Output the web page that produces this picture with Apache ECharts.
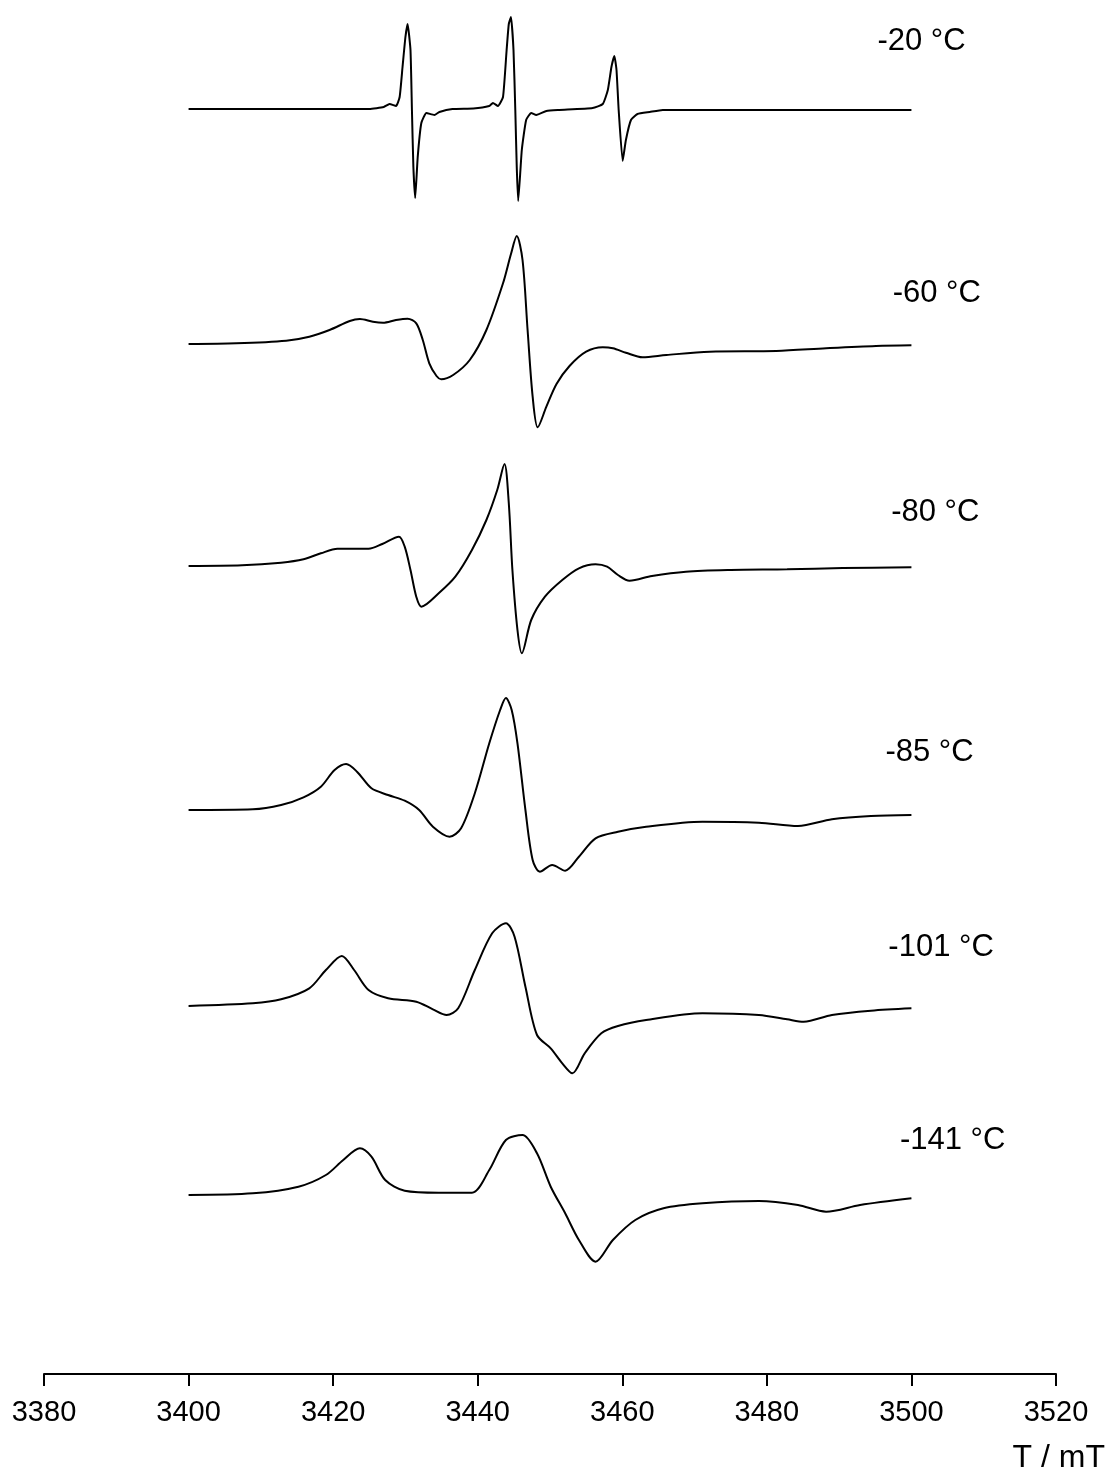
<!DOCTYPE html>
<html>
<head>
<meta charset="utf-8">
<script src="https://cdn.jsdelivr.net/npm/echarts@6/dist/echarts.min.js"></script>
<style>
  html, body { margin: 0; padding: 0; background: #fff; }
  #chart { width: 1110px; height: 1477px; }
</style>
</head>
<body>
<div id="chart"></div>
<script>
// axis ticks (mT)
const xTicks = [3380, 3400, 3420, 3440, 3460, 3480, 3500, 3520]

// temperature labels, top to bottom
const tempLabels = ['-20 °C', '-60 °C', '-80 °C', '-85 °C', '-101 °C', '-141 °C']
// vertical stacking offset of each spectrum (baseline height, arb. units)
const offsets = [1265, 1030, 808, 564, 368, 179]
// where the temperature labels sit (field / height)
const labelX = [3501.4, 3503.5, 3503.3, 3502.5, 3504.1, 3505.7]
const labelY = [1333, 1081, 862, 622, 427, 234]

// spectra: field (mT) and derivative intensity (arb. units)
const fieldM20 = [3400, 3425.0, 3427.0, 3427.8, 3428.7, 3429.2, 3429.6, 3430.0, 3430.3, 3430.7, 3430.9, 3431.1, 3431.35, 3431.7, 3432.2, 3432.9, 3434.0, 3434.7, 3436.5, 3439.4, 3441.6, 3442.1, 3442.8, 3443.5, 3444.0, 3444.3, 3444.6, 3444.95, 3445.2, 3445.4, 3445.6, 3446.1, 3446.7, 3447.4, 3448.1, 3449.5, 3451.3, 3455.9, 3457.3, 3458.0, 3458.5, 3458.9, 3459.2, 3459.5, 3460.05, 3460.5, 3461.2, 3462.1, 3463.8, 3465.6, 3500]
const intM20 = [0, 0, 2, 5, 3, 12, 42, 72, 85, 59, -1, -58, -89, -48, -14, -4, -6, -3, 0, 0.5, 3, 6, 3, 12, 59, 85, 92, 59, -1, -58, -92, -41, -11, -4, -6, -2, -1, 1, 5, 19, 42, 53, 39, -1, -52, -31, -11, -5, -3, -1, -1]

const fieldM60 = [3400, 3406.6, 3413.5, 3416.7, 3419.5, 3422.3, 3423.7, 3425.5, 3426.9, 3428.7, 3430.3, 3431.5, 3432.4, 3433.3, 3434.3, 3434.95, 3436.6, 3438.9, 3441.2, 3443.5, 3444.6, 3445.4, 3446.2, 3446.9, 3447.6, 3448.3, 3449.5, 3450.9, 3452.7, 3455.0, 3457.3, 3458.7, 3460.5, 3462.8, 3466.1, 3472.1, 3481.3, 3488.2, 3495.1, 3500]
const intM60 = [0, 0.7, 3.3, 7.3, 14, 23, 25, 22.3, 21.3, 24, 25.3, 20.7, 4, -19.3, -32, -35.3, -31, -16, 14, 60.7, 90, 108, 84, 14, -52.7, -83.3, -62.7, -40, -22, -7.7, -3.3, -4.3, -8.7, -13.3, -11, -7.7, -7, -4.3, -2, -1.3]

const fieldM80 = [3400, 3407.4, 3412.8, 3415.9, 3418.3, 3420.6, 3422.9, 3424.9, 3426.8, 3429.1, 3429.9, 3430.7, 3431.5, 3432.2, 3434.6, 3436.9, 3439.2, 3441.2, 3442.7, 3443.7, 3444.3, 3444.8, 3445.5, 3446.1, 3447.4, 3449.3, 3451.7, 3454.0, 3456.3, 3457.9, 3459.4, 3461.0, 3464.1, 3468.8, 3475.0, 3482.8, 3490.5, 3500]
const intM80 = [0, 0.7, 3.3, 6.7, 12.7, 17.3, 17.3, 17.3, 22, 29.3, 19.3, -4, -30.7, -40.7, -27.3, -10.7, 16, 46, 76, 102, 62.7, -4, -64, -87.3, -54, -30.7, -14, -2.3, 1.7, -0.7, -9, -14.7, -10, -5.7, -4, -3.3, -2, -1.3]

const fieldM85 = [3400, 3408.9, 3412.8, 3415.9, 3418.3, 3420.2, 3421.8, 3423.3, 3425.3, 3427.6, 3429.9, 3431.9, 3433.8, 3436.1, 3437.7, 3439.6, 3441.6, 3443.1, 3443.9, 3444.7, 3445.5, 3446.6, 3447.6, 3448.6, 3450.3, 3452.1, 3454.0, 3456.3, 3459.4, 3463.3, 3471.1, 3478.9, 3484.3, 3489.0, 3494.4, 3500]
const intM85 = [0, 0.7, 5, 12.7, 23.3, 40, 46, 38.3, 21.7, 15, 9.3, 0, -16.7, -26.7, -18.3, 16.7, 66.7, 100, 112, 100, 66.7, 0, -50, -61.7, -55, -60.7, -46.7, -28.3, -21.7, -16.7, -11.7, -12.7, -16, -9.3, -6, -5]

const fieldM101 = [3400, 3408.9, 3412.8, 3416.7, 3419.0, 3421.2, 3422.9, 3424.9, 3427.6, 3431.5, 3433.8, 3435.7, 3437.3, 3439.6, 3442.0, 3443.9, 3445.1, 3446.6, 3448.2, 3450.1, 3451.7, 3453.1, 3454.8, 3457.1, 3459.4, 3463.3, 3471.1, 3478.9, 3482.8, 3485.1, 3489.0, 3494.4, 3500]
const intM101 = [0, 2.7, 6.7, 17.7, 36, 50, 36, 16, 7.7, 4.3, -3.3, -9, -2.3, 36, 72.7, 82.7, 69.3, 19.3, -29, -42.3, -57.3, -67.3, -47.3, -27.3, -20, -14, -7.3, -9, -13.3, -15.7, -9, -4.7, -2.3]

const fieldM141 = [3400, 3408.9, 3415.2, 3419.0, 3421.4, 3423.7, 3425.3, 3427.2, 3429.9, 3434.6, 3439.2, 3441.6, 3443.9, 3446.2, 3448.2, 3450.1, 3452.1, 3454.0, 3456.3, 3458.7, 3461.8, 3465.7, 3471.1, 3478.9, 3484.3, 3488.2, 3492.9, 3500]
const intM141 = [0, 1.7, 8.3, 20, 35, 46.7, 38.3, 15, 4.3, 2.3, 2.3, 25, 55, 60, 41.7, 8.3, -18.3, -45, -66.7, -45, -25, -13.3, -8.3, -6, -10, -16.7, -10, -3.3]

const fields = [fieldM20, fieldM60, fieldM80, fieldM85, fieldM101, fieldM141]
const intensities = [intM20, intM60, intM80, intM85, intM101, intM141]

const FONT = 'Liberation Sans, Arial, sans-serif'

const myChart = echarts.init(document.getElementById('chart'))

const seriesData = []
fields.forEach((f, i) => {
  seriesData.push({
    name: tempLabels[i],
    type: 'line',
    showSymbol: false,
    smooth: i === 0 ? 0.15 : 0.3,
    lineStyle: { color: '#000', width: 2 },
    data: f.map((x, k) => [x, intensities[i][k] + offsets[i]]),
    silent: true
  })
})

// temperature captions
seriesData.push({
  type: 'scatter',
  symbolSize: 0,
  silent: true,
  itemStyle: { color: '#000', opacity: 1 },
  label: {
    show: true,
    position: 'inside',
    formatter: (p) => tempLabels[p.dataIndex],
    color: '#000',
    textBorderWidth: 0,
    fontSize: 31,
    fontFamily: FONT
  },
  data: labelX.map((x, i) => [x, labelY[i]])
})

const myOption = {
  backgroundColor: '#fff',
  animation: false,
  grid: {
    left: 44,
    right: 54,
    top: 0,
    bottom: 103
  },
  xAxis: {
    type: 'value',
    min: xTicks[0],
    max: xTicks[xTicks.length - 1],
    interval: 20,
    axisLine: { lineStyle: { color: '#000', width: 2 } },
    axisTick: { inside: false, length: 12, lineStyle: { color: '#000', width: 2 } },
    axisLabel: {
      margin: 24,
      color: '#000',
      fontSize: 29,
      fontFamily: FONT,
      showMinLabel: true,
      showMaxLabel: true,
      formatter: (v) => String(v)
    },
    splitLine: { show: false }
  },
  yAxis: {
    type: 'value',
    min: 0,
    max: 1374,
    show: false
  },
  graphic: [{
    type: 'text',
    right: 5,
    top: 1442,
    style: {
      text: 'T / mT',
      fill: '#000',
      fontSize: 32,
      fontFamily: FONT
    }
  }],
  series: seriesData
}
myChart.setOption(myOption)
</script>
</body>
</html>
